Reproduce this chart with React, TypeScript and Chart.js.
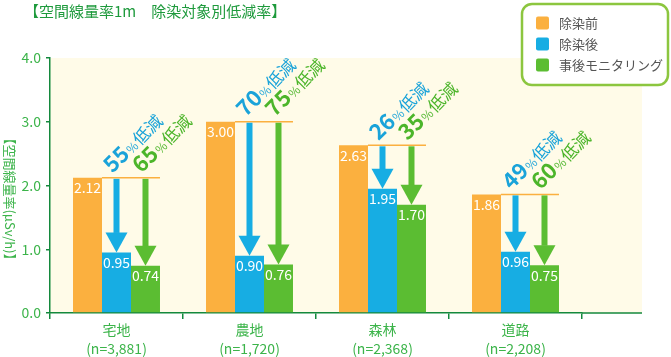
import React, { useEffect, useRef } from 'react';
import { Chart, registerables } from 'chart.js';

Chart.register(...registerables);

const categories = ['宅地', '農地', '森林', '道路'];
const sampleCounts = ['(n=3,881)', '(n=1,720)', '(n=2,368)', '(n=2,208)'];
const seriesLabels = ['除染前', '除染後', '事後モニタリング'];
const beforeValues = [2.12, 3.0, 2.63, 1.86];
const afterValues = [0.95, 0.9, 1.95, 0.96];
const monitoringValues = [0.74, 0.76, 1.7, 0.75];
const afterReduction = [55, 70, 26, 49];
const monitoringReduction = [65, 75, 35, 60];
const yTickValues = [0, 1, 2, 3, 4];
const chartTitle = '【空間線量率1m　除染対象別低減率】';
const yAxisTitle = '【空間線量率(μSv/h)】';

const FONT = '"Noto Sans CJK JP", "Noto Sans", sans-serif';
const ORANGE = '#fbb03f';
const BLUE = '#17ade3';
const GREEN = '#5bbd32';
const BLUE_TEXT = '#1aa3d9';
const GREEN_TEXT = '#4cb52a';
const AXIS = '#14893d';
const TICK_GREEN = '#3cb44a';
const TITLE_GREEN = '#1e9a3c';
const BG = '#fffbe8';
const EXTRA_RIGHT = 60;

function drawReduction(ctx: CanvasRenderingContext2D, x: number, y: number, pct: number, color: string) {
  ctx.save();
  ctx.translate(x, y);
  ctx.rotate(-Math.PI / 4);
  ctx.fillStyle = color;
  ctx.textAlign = 'left';
  ctx.textBaseline = 'alphabetic';
  ctx.font = `bold 22px ${FONT}`;
  const s = String(pct);
  ctx.fillText(s, 0, 0);
  let w = ctx.measureText(s).width + 1;
  ctx.font = `12px ${FONT}`;
  ctx.fillText('%', w, 0);
  w += ctx.measureText('%').width + 1;
  ctx.font = `17px ${FONT}`;
  ctx.fillText('低減', w, 0);
  ctx.restore();
}

function drawArrow(ctx: CanvasRenderingContext2D, x: number, y0: number, y1: number, color: string) {
  const headH = 20;
  const headW = 22;
  const shaftW = 6;
  ctx.save();
  ctx.fillStyle = color;
  ctx.fillRect(x - shaftW / 2, y0, shaftW, Math.max(0, y1 - headH - y0 + 0.5));
  ctx.beginPath();
  ctx.moveTo(x - headW / 2, y1 - headH);
  ctx.lineTo(x + headW / 2, y1 - headH);
  ctx.lineTo(x, y1);
  ctx.closePath();
  ctx.fill();
  ctx.restore();
}

const decorPlugin = {
  id: 'decor',
  beforeDraw(chart: any) {
    const { ctx, chartArea } = chart;
    ctx.save();
    ctx.fillStyle = BG;
    ctx.fillRect(chartArea.left, chartArea.top, chartArea.right + EXTRA_RIGHT - chartArea.left, chartArea.bottom - chartArea.top);
    ctx.restore();
  },
  afterDatasetsDraw(chart: any) {
    const { ctx } = chart;
    const yScale = chart.scales.y;
    const metas = [0, 1, 2].map((i) => chart.getDatasetMeta(i));
    // value labels
    metas.forEach((meta: any) => {
      meta.data.forEach((el: any, i: number) => {
        const v = chart.data.datasets[meta.index].data[i];
        ctx.save();
        ctx.fillStyle = '#ffffff';
        ctx.font = `14px ${FONT}`;
        ctx.textAlign = 'center';
        ctx.textBaseline = 'middle';
        ctx.fillText(Number(v).toFixed(2), el.x, el.y + 10);
        ctx.restore();
      });
    });
    // reference line, arrows, reduction labels
    categories.forEach((_, i) => {
      const o = metas[0].data[i];
      const b = metas[1].data[i];
      const g = metas[2].data[i];
      const lineY = yScale.getPixelForValue(beforeValues[i]);
      ctx.save();
      ctx.strokeStyle = ORANGE;
      ctx.lineWidth = 1.5;
      ctx.beginPath();
      ctx.moveTo(o.x + o.width / 2, lineY);
      ctx.lineTo(g.x + g.width / 2, lineY);
      ctx.stroke();
      ctx.restore();
      drawArrow(ctx, b.x, lineY + 1, b.y, BLUE);
      drawArrow(ctx, g.x, lineY + 1, g.y, GREEN);
      drawReduction(ctx, b.x - 4, lineY - 4, afterReduction[i], BLUE_TEXT);
      drawReduction(ctx, g.x - 4, lineY - 4, monitoringReduction[i], GREEN_TEXT);
    });
  },
  afterDraw(chart: any) {
    const { ctx, chartArea } = chart;
    // extend x axis line
    ctx.save();
    ctx.strokeStyle = AXIS;
    ctx.lineWidth = 1.5;
    ctx.beginPath();
    ctx.moveTo(chartArea.right, chartArea.bottom);
    ctx.lineTo(chartArea.right + EXTRA_RIGHT, chartArea.bottom);
    ctx.stroke();
    ctx.restore();

    // chart title
    ctx.save();
    ctx.fillStyle = TITLE_GREEN;
    ctx.font = `15px ${FONT}`;
    ctx.textAlign = 'left';
    ctx.textBaseline = 'middle';
    ctx.fillText(chartTitle, 24, 11);
    ctx.restore();

    // y-axis title (reads top to bottom)
    ctx.save();
    ctx.translate(10, 199);
    ctx.rotate(Math.PI / 2);
    ctx.fillStyle = TICK_GREEN;
    ctx.font = `13px ${FONT}`;
    ctx.textAlign = 'center';
    ctx.textBaseline = 'middle';
    ctx.fillText(yAxisTitle, 0, 0);
    ctx.restore();

    // legend
    const bx = 522, by = 4, bw = 146, bh = 81, r = 10;
    ctx.save();
    ctx.beginPath();
    ctx.moveTo(bx + r, by);
    ctx.arcTo(bx + bw, by, bx + bw, by + bh, r);
    ctx.arcTo(bx + bw, by + bh, bx, by + bh, r);
    ctx.arcTo(bx, by + bh, bx, by, r);
    ctx.arcTo(bx, by, bx + bw, by, r);
    ctx.closePath();
    ctx.fillStyle = '#ffffff';
    ctx.fill();
    ctx.strokeStyle = '#8cc63f';
    ctx.lineWidth = 2.5;
    ctx.stroke();
    const colors = [ORANGE, BLUE, GREEN];
    seriesLabels.forEach((label, i) => {
      const cy = 23 + i * 21;
      ctx.fillStyle = colors[i];
      ctx.beginPath();
      const sx = 536, sy = cy - 6.5, ss = 13, sr = 2;
      ctx.moveTo(sx + sr, sy);
      ctx.arcTo(sx + ss, sy, sx + ss, sy + ss, sr);
      ctx.arcTo(sx + ss, sy + ss, sx, sy + ss, sr);
      ctx.arcTo(sx, sy + ss, sx, sy, sr);
      ctx.arcTo(sx, sy, sx + ss, sy, sr);
      ctx.closePath();
      ctx.fill();
      ctx.fillStyle = '#555555';
      ctx.font = `13px ${FONT}`;
      ctx.textAlign = 'left';
      ctx.textBaseline = 'middle';
      ctx.fillText(label, 559, cy);
    });
    ctx.restore();
  },
};

export default function App() {
  const canvasRef = useRef<HTMLCanvasElement | null>(null);

  useEffect(() => {
    document.body.style.margin = '0';
    const canvas = canvasRef.current;
    if (!canvas) return;
    const barCommon = { barPercentage: 1, categoryPercentage: 0.654, borderWidth: 0 };
    const chart = new Chart(canvas, {
      type: 'bar',
      data: {
        labels: categories,
        datasets: [
          { label: seriesLabels[0], data: beforeValues, backgroundColor: ORANGE, ...barCommon },
          { label: seriesLabels[1], data: afterValues, backgroundColor: BLUE, ...barCommon },
          { label: seriesLabels[2], data: monitoringValues, backgroundColor: GREEN, ...barCommon },
        ],
      },
      options: {
        responsive: false,
        animation: false,
        layout: { padding: { top: 58, right: 89, left: 0, bottom: 0 } },
        plugins: {
          legend: { display: false },
          tooltip: { enabled: false },
          title: { display: false },
        },
        scales: {
          x: {
            offset: true,
            grid: {
              offset: true,
              drawOnChartArea: false,
              drawTicks: true,
              tickLength: 6,
              color: AXIS,
              lineWidth: 1.5,
            },
            border: { display: true, color: AXIS, width: 1.5 },
            ticks: {
              autoSkip: false,
              maxRotation: 0,
              minRotation: 0,
              padding: 1,
              color: TICK_GREEN,
              font: { size: 14, family: FONT, lineHeight: 1.35 },
              callback: (_v: any, i: number) => [categories[i], sampleCounts[i]],
            },
            afterFit: (s: any) => {
              s.height = 44;
            },
          },
          y: {
            min: 0,
            max: 4,
            afterBuildTicks: (s: any) => {
              s.ticks = yTickValues.map((v) => ({ value: v }));
            },
            grid: {
              drawOnChartArea: false,
              drawTicks: true,
              tickLength: 4,
              color: AXIS,
              lineWidth: 1.5,
            },
            border: { display: true, color: AXIS, width: 1.5 },
            ticks: {
              padding: 5,
              color: TICK_GREEN,
              font: { size: 14, family: FONT },
              callback: (v: any) => Number(v).toFixed(1),
            },
            afterFit: (s: any) => {
              s.width = 50;
            },
          },
        },
      },
      plugins: [decorPlugin],
    });
    return () => chart.destroy();
  }, []);

  return (
    <div style={{ position: 'absolute', left: 0, top: 0, width: 671, height: 357 }}>
      <canvas ref={canvasRef} width={671} height={357} style={{ display: 'block' }} />
    </div>
  );
}
